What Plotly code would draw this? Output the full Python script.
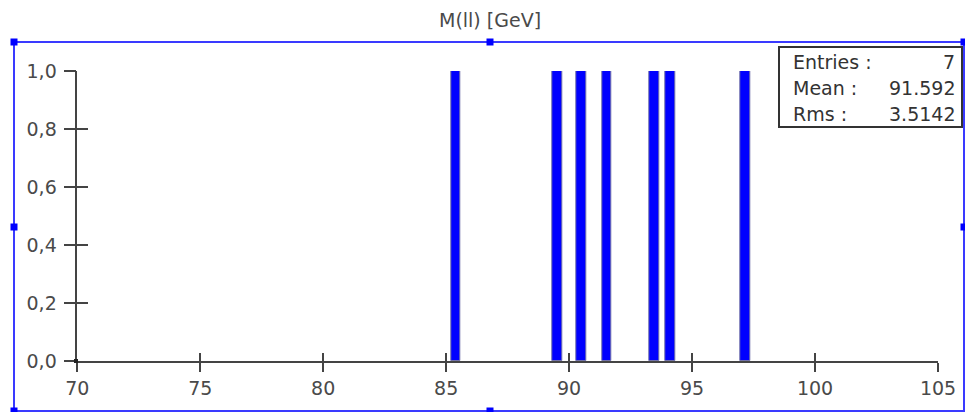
import plotly.graph_objects as go

# ---- data ----
mass_centers = [85.39, 89.51, 90.48, 91.53, 93.48, 94.13, 97.18]
counts = [1, 1, 1, 1, 1, 1, 1]
bin_width = 0.4
x_ticks = [70, 75, 80, 85, 90, 95, 100, 105]
y_ticks = [0.0, 0.2, 0.4, 0.6, 0.8, 1.0]
title_text = "M(ll) [GeV]"
stats_labels = ["Entries :", "Mean :", "Rms :"]
stats_values = ["7", "91.592", "3.5142"]

W, H = 965, 412
FONT = "DejaVu Sans"
TXT = "#4a4a4a"
AX = "#444444"
BLUE = "#3a3aff"


def px(x):
    return x / W


def py(y):
    return 1 - y / H


xdom = [px(77.3), px(938)]
ydom = [py(361), py(71)]

fig = go.Figure()
fig.add_trace(go.Bar(
    x=mass_centers, y=counts, width=bin_width,
    marker=dict(color="#0000ff", line=dict(color="#7070a8", width=1)),
    xaxis="x", yaxis="y", showlegend=False,
))
# invisible trace to anchor the overlay axes (inside halves of the crossing ticks)
fig.add_trace(go.Scatter(x=[None], y=[None], xaxis="x2", yaxis="y2",
                         showlegend=False, hoverinfo="skip"))

common_font = dict(family=FONT, size=19, color=TXT)

fig.update_layout(
    template="none",
    width=W, height=H,
    autosize=False,
    margin=dict(l=0, r=0, t=0, b=0, pad=0, autoexpand=False),
    paper_bgcolor="white", plot_bgcolor="rgba(0,0,0,0)",
    separators=",.",
    bargap=0,
    showlegend=False,
    xaxis=dict(domain=xdom, range=[70, 105], tickvals=x_ticks,
               ticks="outside", ticklen=9, tickwidth=1.5, tickcolor=AX,
               showline=True, linecolor=AX, linewidth=1.5, automargin=False,
               showgrid=False, zeroline=False, tickfont=common_font,
               anchor="y", fixedrange=True),
    yaxis=dict(domain=ydom, range=[0, 1], tickvals=y_ticks, tickformat=".1f",
               ticks="outside", ticklen=12, tickwidth=1.5, tickcolor=AX,
               showline=True, linecolor=AX, linewidth=1.5, automargin=False,
               showgrid=False, zeroline=False, tickfont=common_font,
               ticklabelstandoff=3,
               anchor="x", fixedrange=True),
    xaxis2=dict(domain=xdom, range=[70, 105], tickvals=x_ticks, overlaying="x",
                ticks="inside", ticklen=8, tickwidth=1.5, tickcolor=AX,
                showticklabels=False, showline=False, showgrid=False, automargin=False,
                zeroline=False, anchor="y2", side="bottom", fixedrange=True),
    yaxis2=dict(domain=ydom, range=[0, 1], tickvals=y_ticks, overlaying="y",
                ticks="inside", ticklen=11, tickwidth=1.5, tickcolor=AX,
                showticklabels=False, showline=False, showgrid=False, automargin=False,
                zeroline=False, anchor="x2", side="left", fixedrange=True),
)

shapes = []
# blue selection frame
shapes.append(dict(type="rect", xref="paper", yref="paper",
                   x0=px(14), x1=px(964), y0=py(411), y1=py(42),
                   line=dict(color=BLUE, width=2), fillcolor="rgba(0,0,0,0)"))
# handles
for hx, hy in [(14, 42), (490, 42), (964, 42), (14, 227), (964, 227), (14, 411), (490, 411)]:
    shapes.append(dict(type="rect", xref="paper", yref="paper",
                       x0=px(hx - 3.5), x1=px(hx + 3.5), y0=py(hy + 3.5), y1=py(hy - 3.5),
                       line=dict(color="#0000ff", width=0), fillcolor="#0000ff"))
# small origin marker
shapes.append(dict(type="rect", xref="paper", yref="paper",
                   x0=px(74), x1=px(78), y0=py(363), y1=py(359),
                   line=dict(width=0), fillcolor="#222222"))
# stats box
shapes.append(dict(type="rect", xref="paper", yref="paper",
                   x0=px(779), x1=px(962), y0=py(127), y1=py(47),
                   line=dict(color="#333333", width=2), fillcolor="white"))

annotations = [dict(text=title_text, xref="paper", yref="paper",
                    x=px(490), y=py(20), showarrow=False,
                    font=dict(family=FONT, size=19, color=TXT),
                    xanchor="center", yanchor="middle")]
row_y = [62, 88, 114]
for lab, val, ry in zip(stats_labels, stats_values, row_y):
    annotations.append(dict(text=lab, xref="paper", yref="paper", x=px(791), y=py(ry),
                            showarrow=False, xanchor="left", yanchor="middle",
                            font=dict(family=FONT, size=19, color="#333333")))
    annotations.append(dict(text=val, xref="paper", yref="paper", x=px(957), y=py(ry),
                            showarrow=False, xanchor="right", yanchor="middle",
                            font=dict(family=FONT, size=19, color="#333333")))

fig.update_layout(shapes=shapes, annotations=annotations)
fig.write_html(
    "out.html",
    config={"displayModeBar": False},
    post_script="document.body.style.margin='0';document.body.style.overflow='hidden';",
)
